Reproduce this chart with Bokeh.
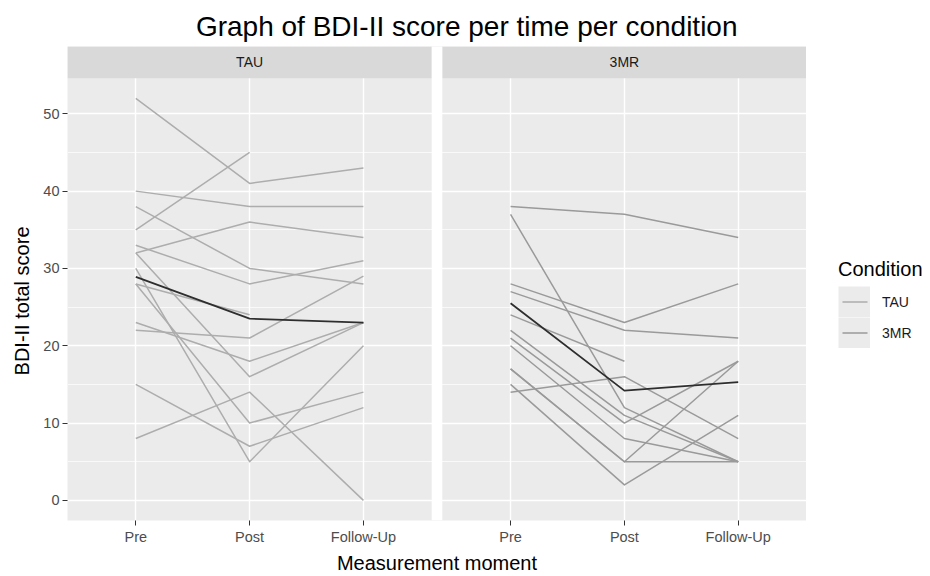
from bokeh.plotting import figure
from bokeh.layouts import row
from bokeh.models import (ColumnDataSource, FactorRange, Range1d,
                          SingleIntervalTicker, Legend, LegendItem, Title)
from bokeh.core.properties import value
from bokeh.embed import file_html
from bokeh.resources import INLINE

# ---------------- data ----------------
moments = ["Pre", "Post", "Follow-Up"]
conditions = ["TAU", "3MR"]

tau_pre  = [52, 35, 40, 38, 33, 32, 32, 30, 28, 28, 23, 22, 15, 8]
tau_post = [41, 45, 38, 30, 28, 36, 16, 5, 10, 24, 18, 21, 7, 14]
tau_fu   = [43, None, 38, 28, 31, 34, 23, 20, 14, None, 23, 29, 12, 0]

mr_pre  = [38, 37, 28, 27, 24, 22, 21, 20, 17, 17, 15, 14]
mr_post = [37, 12, 23, 22, 18, 11, 10, 8, 5, 5, 2, 16]
mr_fu   = [34, 5, 28, 21, None, 5, 18, 5, 18, 5, 11, 8]

tau_mean = [28.9, 23.5, 23.0]
mr_mean  = [25.5, 14.2, 15.3]

title_text = "Graph of BDI-II score per time per condition"
x_title = "Measurement moment"
y_title = "BDI-II total score"
legend_title = "Condition"

# ---------------- style / layout ----------------
FONT = "Liberation Sans"
PANEL_BG = "#EBEBEB"
STRIP_BG = "#D9D9D9"
COL = {"TAU": "#ADADAD", "3MR": "#9A9A9A"}
MEAN_COL = "#2E2E2E"

W, H = 930, 576
FRAME_L, FRAME_R, FRAME_T, FRAME_B = 65, 806, 46, 524
STRIP_PX = 32
EXPAND = 0.6      # discrete-axis expansion (ggplot style)
GAP = 0.093       # gap between the two panels, in factor units

series = {"TAU": (tau_pre, tau_post, tau_fu), "3MR": (mr_pre, mr_post, mr_fu)}
means = {"TAU": tau_mean, "3MR": mr_mean}

vals = [v for c in conditions for arr in series[c] for v in arr if v is not None]
span = max(vals) - min(vals)
y_lo, y_hi = min(vals) - 0.05 * span, max(vals) + 0.05 * span
upp = (y_hi - y_lo) / (FRAME_B - FRAME_T - STRIP_PX)
y_top = y_hi + STRIP_PX * upp

factors = [(c, m) for c in conditions for m in moments]
x_range = FactorRange(factors=factors, factor_padding=0.0,
                      group_padding=2 * EXPAND + GAP - 1,
                      range_padding=EXPAND - 0.5,
                      range_padding_units="absolute")

p = figure(width=FRAME_R, height=H, x_range=x_range, y_range=Range1d(y_lo, y_top),
           output_backend="svg", toolbar_location=None,
           min_border_left=FRAME_L, min_border_right=0,
           min_border_top=FRAME_T, min_border_bottom=H - FRAME_B,
           background_fill_color=PANEL_BG, border_fill_color="white",
           outline_line_color=None)

# title (right end placed so that it is centred on the whole picture)
p.title.text = title_text
p.title.align = "right"
p.title.offset = 69
p.title.text_font = FONT
p.title.text_font_size = "28px"
p.title.text_font_style = "normal"
p.title.text_color = "#000000"

# y axis
p.yaxis.ticker = SingleIntervalTicker(interval=10, num_minor_ticks=2)
p.yaxis.bounds = (y_lo, y_hi)
p.yaxis.axis_line_color = None
p.yaxis.major_tick_line_color = "#333333"
p.yaxis.major_tick_out = 5
p.yaxis.major_tick_in = 0
p.yaxis.minor_tick_line_color = None
p.yaxis.major_label_text_font = FONT
p.yaxis.major_label_text_font_size = "14.5px"
p.yaxis.major_label_text_color = "#4D4D4D"
p.yaxis.major_label_standoff = 3

# y title, centred on the panel area (not on the strip)
ytitle = Title(text=y_title, align="right", offset=180, text_font=FONT,
               text_font_size="20px", text_font_style="normal",
               text_color="#000000", standoff=16)
p.add_layout(ytitle, "left")

# x axis
p.xaxis.axis_line_color = None
p.xaxis.major_tick_line_color = "#333333"
p.xaxis.major_tick_out = 5
p.xaxis.major_tick_in = 0
p.xaxis.minor_tick_line_color = None
p.xaxis.major_label_text_font = FONT
p.xaxis.major_label_text_font_size = "14.5px"
p.xaxis.major_label_text_color = "#4D4D4D"
p.xaxis.major_label_standoff = 3
p.xaxis.group_text_font_size = "1px"
p.xaxis.group_text_color = None
p.xaxis.separator_line_color = None
p.xaxis.axis_label = x_title
p.xaxis.axis_label_text_font = FONT
p.xaxis.axis_label_text_font_size = "20px"
p.xaxis.axis_label_text_font_style = "normal"
p.xaxis.axis_label_text_color = "#000000"
p.xaxis.axis_label_standoff = 4

# grids
p.ygrid.grid_line_color = "white"
p.ygrid.grid_line_width = 1.4
p.ygrid.minor_grid_line_color = "white"
p.ygrid.minor_grid_line_width = 0.7
p.xgrid.grid_line_color = "white"
p.xgrid.grid_line_width = 1.4

# strips and panel gap
first, last = moments[0], moments[-1]
strip_src = ColumnDataSource(dict(
    left=[(c, first, -EXPAND) for c in conditions],
    right=[(c, last, EXPAND) for c in conditions],
    bottom=[y_hi] * len(conditions), top=[y_top] * len(conditions)))
p.quad(left="left", right="right", bottom="bottom", top="top", source=strip_src,
       fill_color=STRIP_BG, line_color=None)
gap_src = ColumnDataSource(dict(
    left=[(conditions[0], last, EXPAND)], right=[(conditions[1], first, -EXPAND)],
    bottom=[y_lo], top=[y_top]))
p.quad(left="left", right="right", bottom="bottom", top="top", source=gap_src,
       fill_color="white", line_color=None)
p.text(x=[(c, moments[len(moments) // 2]) for c in conditions],
       y=[(y_hi + y_top) / 2] * len(conditions), text=conditions,
       text_align="center", text_baseline="middle", text_font=value(FONT),
       text_font_size="14px", text_color="#1A1A1A")

# subject lines
for c in conditions:
    xs, ys = [], []
    for r in zip(*series[c]):
        xs.append([(c, m) for m, v in zip(moments, r) if v is not None])
        ys.append([v for v in r if v is not None])
    p.multi_line(xs=xs, ys=ys, line_color=COL[c], line_width=1.5, line_join="round")

# mean lines
for c in conditions:
    p.line(x=[(c, m) for m in moments], y=means[c], line_color=MEAN_COL,
           line_width=1.8, line_join="round")

# ---------------- legend (own small canvas to the right) ----------------
LW = W - FRAME_R
lg = figure(width=LW, height=H, x_range=Range1d(0, 1), y_range=Range1d(0, 1),
            x_axis_type=None, y_axis_type=None, output_backend="svg",
            toolbar_location=None, min_border=0, outline_line_color=None,
            background_fill_color="white", border_fill_color="white")
lg.xgrid.visible = False
lg.ygrid.visible = False
nan = float("nan")
KEY_W, KEY_H = 32, 31
r_bg = lg.line(x=[0], y=[nan], line_color=PANEL_BG, line_width=KEY_H, line_cap="butt")
keys = {c: lg.line(x=[0], y=[nan], line_color=COL[c], line_width=1.5,
                   line_cap="butt", line_dash="25 7", line_dash_offset=28)
        for c in conditions}
legend = Legend(items=[LegendItem(label=c, renderers=[r_bg, keys[c]]) for c in conditions],
                title=legend_title, location=(838 - FRAME_R, 172),
                orientation="vertical",
                glyph_width=KEY_W, glyph_height=KEY_H, spacing=0, label_standoff=12,
                padding=0, margin=0, border_line_color=None, background_fill_alpha=0,
                title_text_font=FONT, title_text_font_size="20px",
                title_text_font_style="normal", title_text_color="#000000",
                title_standoff=5, label_text_font=FONT, label_text_font_size="14px",
                label_text_color="#1A1A1A")
lg.add_layout(legend, "center")

layout = row(p, lg)
open("out.html", "w").write(file_html(layout, INLINE))
